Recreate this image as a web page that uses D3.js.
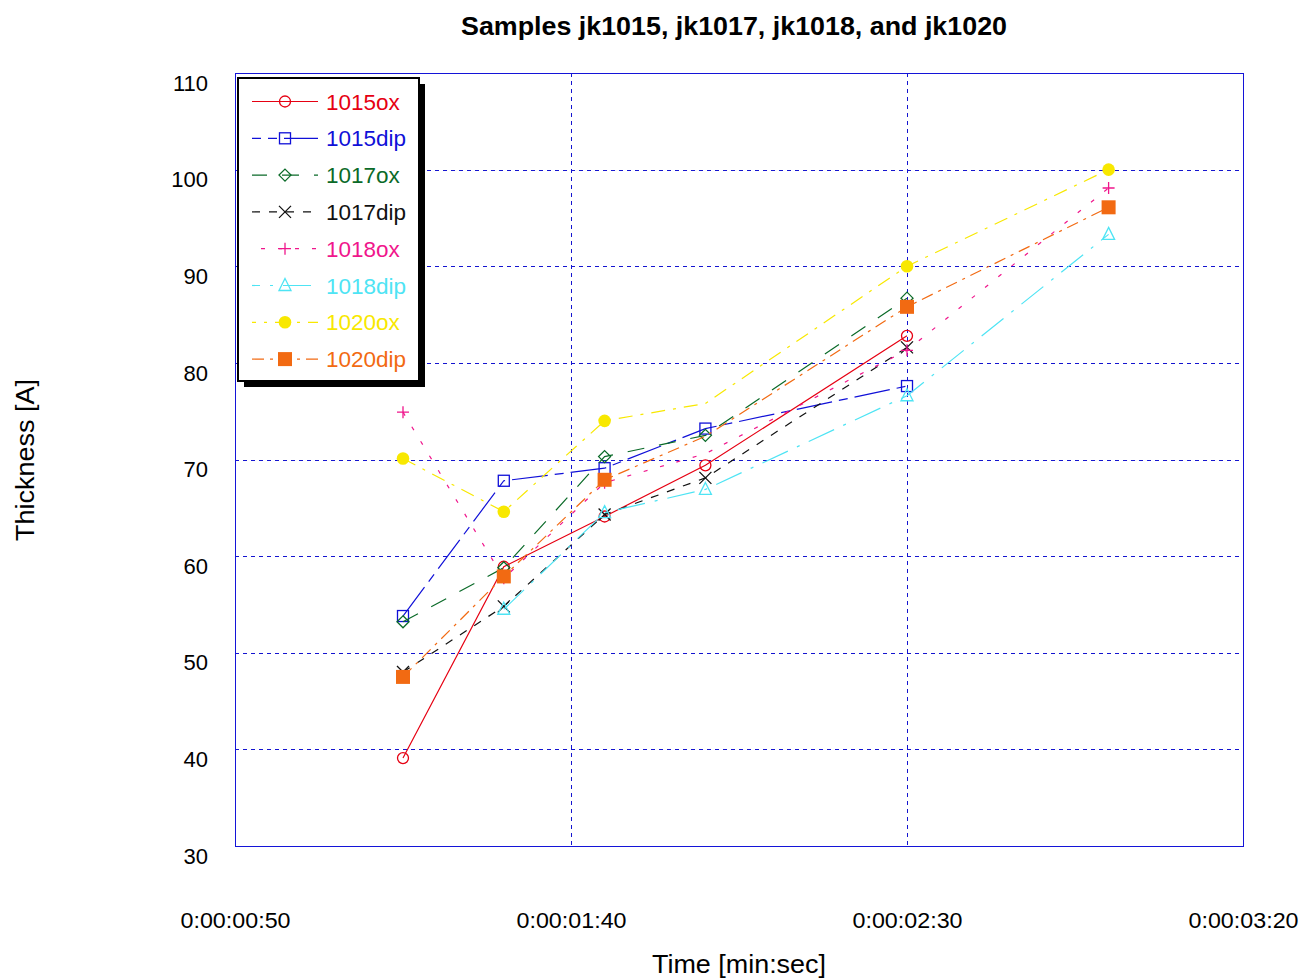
<!DOCTYPE html>
<html>
<head>
<meta charset="utf-8">
<script src="https://cdn.jsdelivr.net/npm/d3@7"></script>
<style>
    body { margin: 0; background: #fff; }
    svg text { font-family: "Liberation Sans", Arial, sans-serif; }
</style>
</head>
<body>
<div id="chart"></div>
<script>
// sample times in seconds
const times = [75, 90, 105, 120, 150, 180];

const seriesNames = ["1015ox", "1015dip", "1017ox", "1017dip", "1018ox", "1018dip", "1020ox", "1020dip"];

const v1015ox  = [39.1, 58.9, 64.1, 69.4, 82.8, null];
const v1015dip = [53.8, 67.8, 69.1, 73.2, 77.6, null];
const v1017ox  = [53.2, 58.8, 70.3, 72.5, 86.7, null];
const v1017dip = [48.0, 54.8, 64.3, 68.1, 81.6, null];
const v1018ox  = [74.9, 57.7, 67.6, 70.6, 81.3, 98.1];
const v1018dip = [null, 54.5, 64.5, 66.9, 76.6, 93.3];
const v1020ox  = [70.1, 64.6, 74.0, 75.8, 90.0, 100.0];
const v1020dip = [47.5, 57.9, 67.9, 72.4, 85.8, 96.1];

// points that have no marker on the plot
const unmarked = [["1018ox", 120], ["1020ox", 120], ["1020dip", 120]];

const xTicks = [50, 100, 150, 200];
const xTickLabels = ["0:00:00:50", "0:00:01:40", "0:00:02:30", "0:00:03:20"];
const yTicks = [30, 40, 50, 60, 70, 80, 90, 100, 110];

const values = [v1015ox, v1015dip, v1017ox, v1017dip, v1018ox, v1018dip, v1020ox, v1020dip];
const colors = ["#e60012", "#1010d8", "#0a6a28", "#111111", "#f0168c", "#4ee4f4", "#f8e800", "#f26a12"];
const dashes = ["none", "36,7,9,7", "17,15", "8,9", "4,13", "28,10,3,10", "14,8,3,8", "12,6,3,6"];
const legendOffsets = [0, 27, 2, 0, 8, 20, 10, 0];
const shapes = ["circle", "square", "diamond", "times", "plus", "triangle", "dot", "block"];

const series = seriesNames.map((name, i) => ({
    name: name,
    color: colors[i],
    dash: dashes[i],
    shape: shapes[i],
    points: times.map((t, j) => ({ t: t, v: values[i][j] })).filter(d => d.v !== null)
}));

const W = 1301, H = 980;
const plot = { left: 235, right: 1243, top: 73, bottom: 846 };

const svg = d3.select("#chart")
    .append("svg")
    .attr("width", W)
    .attr("height", H);

const xScale = d3.scaleLinear().domain([50, 200]).range([plot.left, plot.right]);
const yScale = d3.scaleLinear().domain([30, 110]).range([plot.bottom, plot.top]);

const crisp = v => Math.round(v) + 0.5;

// grid
const gridColor = "#1414d0";
svg.append("g")
    .selectAll("line")
    .data(yTicks.slice(1, -1))
    .enter()
    .append("line")
    .attr("x1", plot.left).attr("x2", plot.right)
    .attr("y1", d => crisp(yScale(d))).attr("y2", d => crisp(yScale(d)))
    .attr("stroke", gridColor)
    .attr("stroke-width", 1)
    .attr("stroke-dasharray", "4,4");

svg.append("g")
    .selectAll("line")
    .data(xTicks.slice(1, -1))
    .enter()
    .append("line")
    .attr("x1", d => crisp(xScale(d))).attr("x2", d => crisp(xScale(d)))
    .attr("y1", plot.top).attr("y2", plot.bottom)
    .attr("stroke", gridColor)
    .attr("stroke-width", 1)
    .attr("stroke-dasharray", "4,4");

svg.append("rect")
    .attr("x", plot.left + 0.5).attr("y", plot.top + 0.5)
    .attr("width", plot.right - plot.left)
    .attr("height", plot.bottom - plot.top)
    .attr("fill", "none")
    .attr("stroke", "#1414d8")
    .attr("stroke-width", 1);

// axes (labels only, no tick marks)
const yAxis = d3.axisLeft(yScale).tickValues(yTicks).tickSize(0).tickPadding(27);
svg.append("g")
    .attr("transform", `translate(${plot.left}, 0)`)
    .call(yAxis)
    .call(g => g.select(".domain").remove())
    .selectAll("text")
    .attr("dy", "0.78em")
    .style("font-size", "22px")
    .style("fill", "#000");

const xAxis = d3.axisBottom(xScale).tickValues(xTicks)
    .tickFormat((d, i) => xTickLabels[i]).tickSize(0).tickPadding(66);
svg.append("g")
    .attr("transform", `translate(0, ${plot.bottom})`)
    .call(xAxis)
    .call(g => g.select(".domain").remove())
    .selectAll("text")
    .style("font-size", "22px")
    .style("fill", "#000")
    .attr("textLength", 110)
    .attr("lengthAdjust", "spacingAndGlyphs");

// titles
svg.append("text")
    .attr("x", 734).attr("y", 35)
    .attr("text-anchor", "middle")
    .style("font-size", "25px")
    .style("font-weight", "bold")
    .attr("textLength", 546)
    .attr("lengthAdjust", "spacingAndGlyphs")
    .text("Samples jk1015, jk1017, jk1018, and jk1020");

svg.append("text")
    .attr("x", 739).attr("y", 973)
    .attr("text-anchor", "middle")
    .style("font-size", "25px")
    .attr("textLength", 174)
    .attr("lengthAdjust", "spacingAndGlyphs")
    .text("Time [min:sec]");

svg.append("text")
    .attr("transform", "translate(34, 460) rotate(-90)")
    .attr("text-anchor", "middle")
    .style("font-size", "25px")
    .attr("textLength", 162)
    .attr("lengthAdjust", "spacingAndGlyphs")
    .text("Thickness [A]");

// marker shapes
function drawMarker(g, shape, color, x, y) {
    const s = 6;
    let m;
    switch (shape) {
        case "circle":
            m = g.append("circle").attr("cx", x).attr("cy", y).attr("r", 5.5);
            break;
        case "square":
            m = g.append("rect").attr("x", x - 5.5).attr("y", y - 5.5).attr("width", 11).attr("height", 11);
            break;
        case "diamond":
            m = g.append("path").attr("d", `M${x},${y - s}L${x + s},${y}L${x},${y + s}L${x - s},${y}Z`);
            break;
        case "times":
            m = g.append("path").attr("d", `M${x - s},${y - s}L${x + s},${y + s}M${x - s},${y + s}L${x + s},${y - s}`);
            break;
        case "plus":
            m = g.append("path").attr("d", `M${x - s},${y}L${x + s},${y}M${x},${y - s}L${x},${y + s}`);
            break;
        case "triangle":
            m = g.append("path").attr("d", `M${x},${y - s - 1}L${x + s},${y + 5}L${x - s},${y + 5}Z`);
            break;
        case "dot":
            m = g.append("circle").attr("cx", x).attr("cy", y).attr("r", 6.3);
            break;
        case "block":
            m = g.append("rect").attr("x", x - 7).attr("y", y - 7).attr("width", 14).attr("height", 14);
            break;
    }
    if (shape === "dot" || shape === "block") {
        m.attr("fill", color).attr("stroke", "none");
    } else {
        m.attr("fill", "none").attr("stroke", color).attr("stroke-width", 1.3);
    }
}

const line = d3.line()
    .x(d => xScale(d.t))
    .y(d => yScale(d.v));

series.forEach((s) => {
    const g = svg.append("g").attr("class", "series");
    g.append("path")
        .datum(s.points)
        .attr("d", line)
        .attr("fill", "none")
        .attr("stroke", s.color)
        .attr("stroke-width", 1.2)
        .attr("stroke-dasharray", s.dash);

    s.points.forEach((p) => {
        const skip = unmarked.some(u => u[0] === s.name && u[1] === p.t);
        if (!skip) drawMarker(g, s.shape, s.color, xScale(p.t), yScale(p.v));
    });
});

// legend
const legend = { x: 238, y: 78, w: 181, h: 303, row: 36.8 };

svg.append("rect")
    .attr("x", legend.x + 6).attr("y", legend.y + 6)
    .attr("width", legend.w).attr("height", legend.h)
    .attr("fill", "#000");

svg.append("rect")
    .attr("x", legend.x).attr("y", legend.y)
    .attr("width", legend.w).attr("height", legend.h)
    .attr("fill", "#fff")
    .attr("stroke", "#000")
    .attr("stroke-width", 2);

series.forEach((s, i) => {
    const y = legend.y + 23.5 + i * legend.row;
    const g = svg.append("g");
    g.append("line")
        .attr("x1", 252).attr("x2", 318)
        .attr("y1", y).attr("y2", y)
        .attr("stroke", s.color)
        .attr("stroke-width", 1.2)
        .attr("stroke-dasharray", s.dash)
        .attr("stroke-dashoffset", legendOffsets[i]);
    drawMarker(g, s.shape, s.color, 285, y);
    g.append("text")
        .attr("x", 326).attr("y", y)
        .attr("dy", "0.36em")
        .style("font-size", "22.5px")
        .style("fill", s.color)
        .text(s.name);
});
</script>
</body>
</html>
